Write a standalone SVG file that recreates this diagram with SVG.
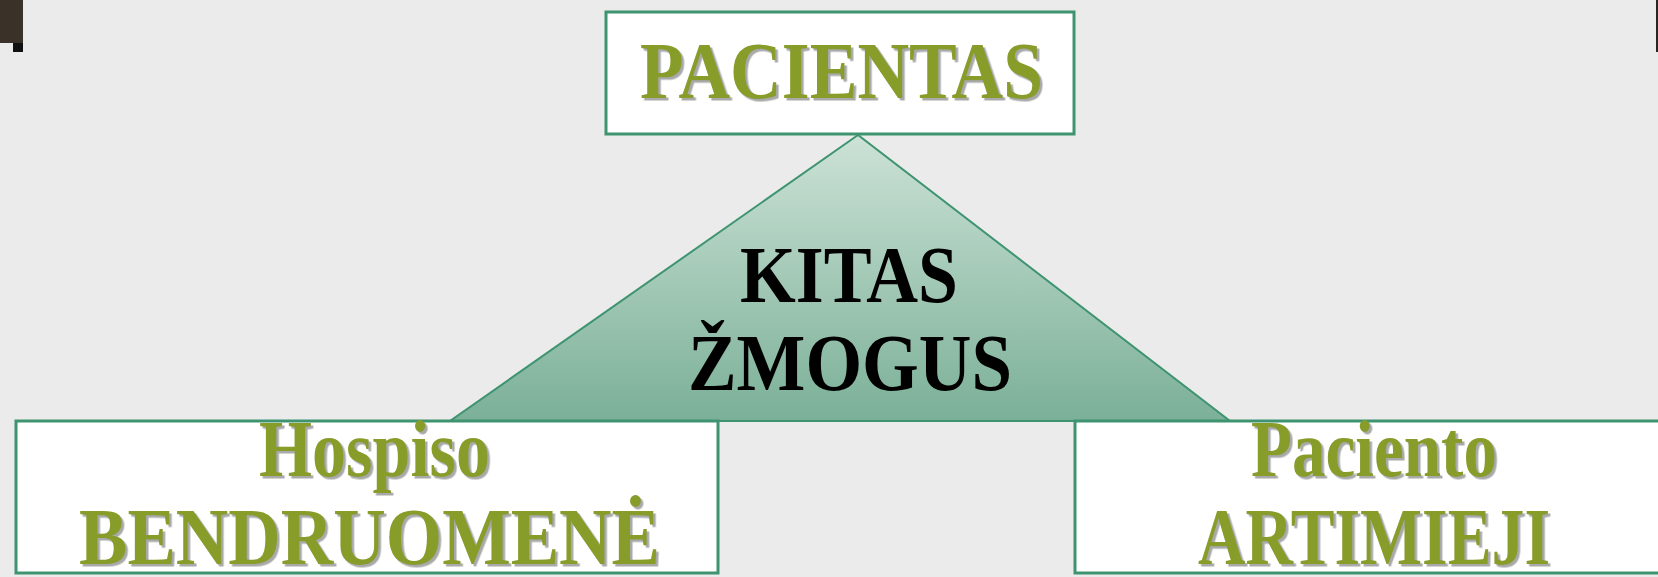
<svg xmlns="http://www.w3.org/2000/svg" width="1658" height="577" viewBox="0 0 1658 577">
  <defs>
    <linearGradient id="triFill" x1="0" y1="0" x2="0" y2="1">
      <stop offset="0" stop-color="#cce2d6"/>
      <stop offset="1" stop-color="#7bb098"/>
    </linearGradient>
    <filter id="shadow" x="-5%" y="-10%" width="110%" height="130%">
      <feDropShadow dx="2.5" dy="2.5" stdDeviation="0.6" flood-color="#9a9a9a" flood-opacity="0.85"/>
    </filter>
  </defs>
  <style>
    .box { fill: #ffffff; stroke: #3e9471; stroke-width: 3; }
    .olive { font-family: "Liberation Serif", "Times New Roman", serif; font-weight: bold; font-size: 80px; fill: #889c2b; filter: url(#shadow); }
    .dark { font-family: "Liberation Serif", "Times New Roman", serif; font-weight: bold; font-size: 80px; fill: #000000; }
  </style>
  <rect x="0" y="0" width="1658" height="577" fill="#ebebeb"/>
  <g id="corner-marks">
    <rect x="0" y="0" width="23" height="43" fill="#3a3128"/>
    <rect x="13" y="43" width="10" height="9" fill="#111111"/>
    <rect x="1656" y="0" width="2" height="52" fill="#2a2520"/>
  </g>
  <g id="kitas-zmogus">
    <polygon points="858,135 450,421 1230,421" fill="url(#triFill)" stroke="#3e9471" stroke-width="2"/>
    <text class="dark" x="740" y="302" textLength="218" lengthAdjust="spacingAndGlyphs">KITAS</text>
    <text class="dark" x="688" y="390" textLength="324" lengthAdjust="spacingAndGlyphs">ŽMOGUS</text>
  </g>
  <g id="pacientas">
    <rect class="box" x="606" y="12" width="468" height="122"/>
    <text class="olive" x="640" y="98" textLength="403" lengthAdjust="spacingAndGlyphs">PACIENTAS</text>
  </g>
  <g id="hospiso-bendruomene">
    <rect class="box" x="16" y="421" width="702" height="152"/>
    <text class="olive" x="259" y="476" textLength="231" lengthAdjust="spacingAndGlyphs">Hospiso</text>
    <text class="olive" x="79" y="564" textLength="581" lengthAdjust="spacingAndGlyphs">BENDRUOMENĖ</text>
  </g>
  <g id="paciento-artimieji">
    <rect class="box" x="1075" y="421" width="600" height="152"/>
    <text class="olive" x="1251" y="476" textLength="246" lengthAdjust="spacingAndGlyphs">Paciento</text>
    <text class="olive" x="1198" y="564" textLength="352" lengthAdjust="spacingAndGlyphs">ARTIMIEJI</text>
  </g>
</svg>
